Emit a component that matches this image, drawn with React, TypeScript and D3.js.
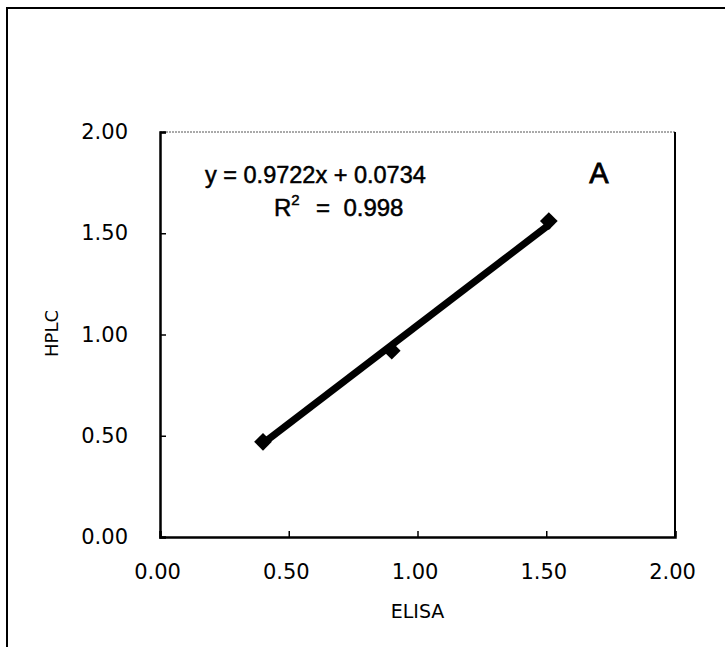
import { useEffect, useRef } from 'react';
import * as d3 from 'd3';

// measured points (ELISA vs HPLC)
const elisa = [0.4, 0.9, 1.51];
const hplc = [0.47, 0.92, 1.56];

// linear fit reported on the chart
const slope = 0.9722;
const intercept = 0.0734;
const r2 = '0.998';

const xTicks = [0, 0.5, 1, 1.5, 2];
const yTicks = [0, 0.5, 1, 1.5, 2];

const App = () => {
  const svgRef = useRef<SVGSVGElement>(null);

  useEffect(() => {
    const svg = d3.select(svgRef.current);
    svg.selectAll('*').remove();

    const W = 725;
    const H = 647;
    const margin = { top: 132, right: 50, bottom: 110, left: 160 };
    const width = W - margin.left - margin.right;
    const height = H - margin.top - margin.bottom;
    const font = '"DejaVu Sans", sans-serif';
    const arial = '"Liberation Sans", Arial, sans-serif';

    // outer frame (only top and left edges visible)
    svg
      .append('path')
      .attr('d', `M7,${H} V8 H${W}`)
      .attr('fill', 'none')
      .attr('stroke', '#000')
      .attr('stroke-width', 2);

    const g = svg.append('g').attr('transform', `translate(${margin.left},${margin.top})`);

    const x = d3.scaleLinear().domain([0, 2]).range([0, width]);
    const y = d3.scaleLinear().domain([0, 2]).range([height, 0]);

    // plot area border
    g.append('line')
      .attr('x1', 0)
      .attr('x2', width)
      .attr('y1', 0)
      .attr('y2', 0)
      .attr('stroke', '#555')
      .attr('stroke-width', 1)
      .attr('stroke-dasharray', '2,1');
    g.append('line')
      .attr('x1', width)
      .attr('x2', width)
      .attr('y1', 0)
      .attr('y2', height)
      .attr('stroke', '#000')
      .attr('stroke-width', 2);

    // axes with inward ticks
    const xAxis = g
      .append('g')
      .attr('transform', `translate(0,${height})`)
      .call(d3.axisBottom(x).tickValues(xTicks).tickSize(-6).tickPadding(27).tickFormat(d3.format('.2f')));
    const yAxis = g
      .append('g')
      .call(d3.axisLeft(y).tickValues(yTicks).tickSize(-6).tickPadding(32).tickFormat(d3.format('.2f')));

    [xAxis, yAxis].forEach((ax) => {
      ax.select('.domain').attr('stroke', '#000').attr('stroke-width', 2.5);
      ax.selectAll('.tick line').attr('stroke', '#000').attr('stroke-width', 1.5);
      ax.selectAll('.tick text')
        .attr('fill', '#000')
        .style('font-family', font)
        .style('font-size', '21px');
    });
    xAxis.selectAll('.tick text').attr('dx', -3);

    // axis titles
    g.append('text')
      .attr('x', width / 2)
      .attr('y', height + 81)
      .attr('text-anchor', 'middle')
      .style('font-family', font)
      .style('font-size', '19px')
      .text('ELISA');

    g.append('text')
      .attr('transform', `translate(${52 - margin.left},${height / 2 - 1}) rotate(-90)`)
      .attr('text-anchor', 'middle')
      .attr('dy', '0.35em')
      .style('font-family', font)
      .style('font-size', '18px')
      .text('HPLC');

    // regression line over the data range
    const [x0, x1] = d3.extent(elisa) as [number, number];
    const fit = [x0, x1].map((v) => ({ x: v, y: slope * v + intercept }));
    const line = d3
      .line<{ x: number; y: number }>()
      .x((d) => x(d.x))
      .y((d) => y(d.y));
    g.append('path')
      .datum(fit)
      .attr('fill', 'none')
      .attr('stroke', '#000')
      .attr('stroke-width', 7)
      .attr('d', line);

    // diamond markers
    const diamond = d3.symbol().type(d3.symbolDiamond2).size(200);
    g.selectAll('.pt')
      .data(elisa.map((v, i) => ({ x: v, y: hplc[i] })))
      .enter()
      .append('path')
      .attr('class', 'pt')
      .attr('transform', (d) => `translate(${x(d.x)},${y(d.y)})`)
      .attr('d', diamond)
      .attr('fill', '#000');

    // equation and R^2
    g.append('text')
      .attr('x', 45)
      .attr('y', 51)
      .attr('stroke', '#000')
      .attr('stroke-width', 0.5)
      .style('font-family', arial)
      .style('font-size', '23.5px')
      .text(`y = ${slope}x + ${intercept}`);

    const rt = g
      .append('text')
      .attr('x', 114)
      .attr('y', 84)
      .attr('stroke', '#000')
      .attr('stroke-width', 0.5)
      .style('font-family', arial)
      .style('font-size', '24px');
    rt.append('tspan').text('R');
    rt.append('tspan').attr('dy', -11).style('font-size', '15px').text('2');
    rt.append('tspan').attr('dy', 11).attr('dx', 3).text('  =  ');
    rt.append('tspan').text(r2);
    rt.style('white-space', 'pre');

    g.append('text')
      .attr('x', 439)
      .attr('y', 51)
      .attr('text-anchor', 'middle')
      .attr('stroke', '#000')
      .attr('stroke-width', 0.8)
      .style('font-family', arial)
      .style('font-size', '29px')
      .text('A');
  }, []);

  return (
    <svg
      ref={svgRef}
      width={725}
      height={647}
      style={{ position: 'fixed', left: 0, top: 0, background: '#fff' }}
    ></svg>
  );
};

export default App;
